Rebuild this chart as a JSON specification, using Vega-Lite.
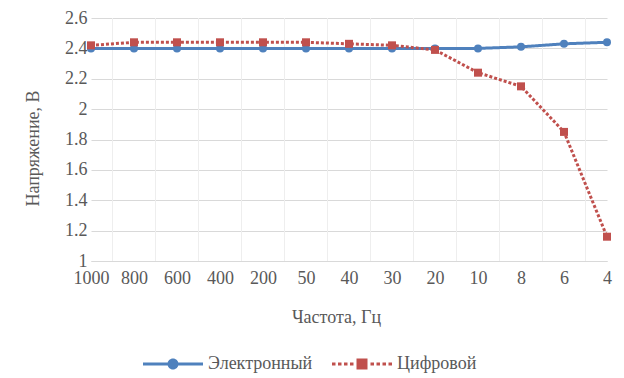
{
  "$schema": "https://vega.github.io/schema/vega-lite/v6.json",
  "width": 516,
  "height": 243,
  "autosize": "none",
  "padding": {"left": 91, "top": 18, "right": 17, "bottom": 117},
  "background": "white",
  "config": {
    "font": "Liberation Serif, Times New Roman, DejaVu Serif, serif",
    "view": {"stroke": null},
    "axis": {
      "labelFont": "Liberation Serif, Times New Roman, DejaVu Serif, serif",
      "titleFont": "Liberation Serif, Times New Roman, DejaVu Serif, serif",
      "labelColor": "#595959",
      "titleColor": "#595959",
      "labelFontSize": 18,
      "titleFontSize": 18,
      "titleFontWeight": "normal"
    },
    "legend": {
      "labelFont": "Liberation Serif, Times New Roman, DejaVu Serif, serif"
    }
  },
  "data": {
    "values": [
      {"series": "Электронный", "freq": 1000, "value": 2.40},
      {"series": "Электронный", "freq": 800, "value": 2.40},
      {"series": "Электронный", "freq": 600, "value": 2.40},
      {"series": "Электронный", "freq": 400, "value": 2.40},
      {"series": "Электронный", "freq": 200, "value": 2.40},
      {"series": "Электронный", "freq": 50, "value": 2.40},
      {"series": "Электронный", "freq": 40, "value": 2.40},
      {"series": "Электронный", "freq": 30, "value": 2.40},
      {"series": "Электронный", "freq": 20, "value": 2.40},
      {"series": "Электронный", "freq": 10, "value": 2.40},
      {"series": "Электронный", "freq": 8, "value": 2.41},
      {"series": "Электронный", "freq": 6, "value": 2.43},
      {"series": "Электронный", "freq": 4, "value": 2.44},
      {"series": "Цифровой", "freq": 1000, "value": 2.42},
      {"series": "Цифровой", "freq": 800, "value": 2.44},
      {"series": "Цифровой", "freq": 600, "value": 2.44},
      {"series": "Цифровой", "freq": 400, "value": 2.44},
      {"series": "Цифровой", "freq": 200, "value": 2.44},
      {"series": "Цифровой", "freq": 50, "value": 2.44},
      {"series": "Цифровой", "freq": 40, "value": 2.43},
      {"series": "Цифровой", "freq": 30, "value": 2.42},
      {"series": "Цифровой", "freq": 20, "value": 2.39},
      {"series": "Цифровой", "freq": 10, "value": 2.24},
      {"series": "Цифровой", "freq": 8, "value": 2.15},
      {"series": "Цифровой", "freq": 6, "value": 1.85},
      {"series": "Цифровой", "freq": 4, "value": 1.16}
    ]
  },
  "layer": [
    {
      "transform": [{"filter": "datum.series === 'Электронный' && datum.freq !== 4"}],
      "mark": {"type": "rule", "color": "#eeeeee", "strokeWidth": 1},
      "encoding": {
        "x": {"field": "freq", "type": "ordinal", "sort": "descending", "scale": {"type": "band", "paddingInner": 0, "paddingOuter": 0}, "axis": null}
      }
    },
    {
      "encoding": {
        "x": {
          "field": "freq", "type": "ordinal", "sort": "descending",
          "scale": {"type": "point", "padding": 0},
          "axis": {"title": "Частота, Гц", "labelAngle": 0, "ticks": false, "grid": false, "domainColor": "#d9d9d9", "domainWidth": 1, "labelPadding": 8, "labelOverlap": false, "titleX": 245, "titleY": 47}
        },
        "y": {
          "field": "value", "type": "quantitative",
          "scale": {"domain": [1, 2.6], "nice": false, "zero": false},
          "axis": {"title": "Напряжение, В", "values": [1, 1.2, 1.4, 1.6, 1.8, 2, 2.2, 2.4, 2.6], "format": "~g", "ticks": false, "domain": false, "gridColor": "#d9d9d9", "labelPadding": 4, "titleX": -49, "titleY": 130}
        },
        "color": {
          "field": "series", "type": "nominal",
          "scale": {"domain": ["Электронный", "Цифровой"], "range": ["#4f81bd", "#c0504d"]},
          "legend": {
            "orient": "none", "legendX": 73, "legendY": 337, "direction": "horizontal", "title": null,
            "symbolSize": 100, "symbolOpacity": 1, "labelOffset": 26, "columnPadding": 19, "padding": 0,
            "labelFontSize": 18, "labelColor": "#595959",
            "encode": {
              "symbols": {
                "update": {
                  "fill": {"signal": "datum.value === 'Электронный' ? '#4f81bd' : '#c0504d'"},
                  "stroke": {"value": "transparent"},
                  "strokeWidth": {"value": 0},
                  "opacity": {"value": 1},
                  "fillOpacity": {"value": 1}
                }
              }
            }
          }
        }
      },
      "layer": [
        {
          "mark": {"type": "line", "strokeWidth": 3, "strokeCap": "butt"},
          "encoding": {
            "order": {"field": "freq", "sort": "descending"},
            "strokeDash": {"field": "series", "type": "nominal", "scale": {"domain": ["Электронный", "Цифровой"], "range": [[1, 0], [3, 2]]}, "legend": null}
          }
        },
        {
          "transform": [{"filter": "datum.series === 'Электронный'"}],
          "mark": {"type": "point", "filled": true, "opacity": 1, "size": 64, "shape": "circle"}
        },
        {
          "transform": [{"filter": "datum.series === 'Цифровой'"}],
          "mark": {"type": "point", "filled": true, "opacity": 1, "size": 64, "shape": "square"}
        },
        {
          "transform": [{"filter": "false"}],
          "mark": {"type": "point", "filled": true, "opacity": 1, "size": 100},
          "encoding": {
            "shape": {
              "field": "series", "type": "nominal",
              "scale": {"domain": ["Электронный", "Цифровой"], "range": ["M-6,-0.3H6V0.3H-6Z M-1.1,0A1.1,1.1,0,1,1,1.1,0A1.1,1.1,0,1,1,-1.1,0Z", "M-6,-0.3H-5.3V0.3H-6Z M-4.8,-0.3H-4.1V0.3H-4.8Z M-3.6,-0.3H-2.9V0.3H-3.6Z M-2.4,-0.3H-1.7V0.3H-2.4Z M-1.1,-1.1H1.1V1.1H-1.1Z M1.7,-0.3H2.4V0.3H1.7Z M2.9,-0.3H3.6V0.3H2.9Z M4.1,-0.3H4.8V0.3H4.1Z M5.3,-0.3H6V0.3H5.3Z"]},
              "legend": null
            }
          }
        }
      ]
    }
  ],
  "resolve": {"scale": {"x": "independent"}}
}
